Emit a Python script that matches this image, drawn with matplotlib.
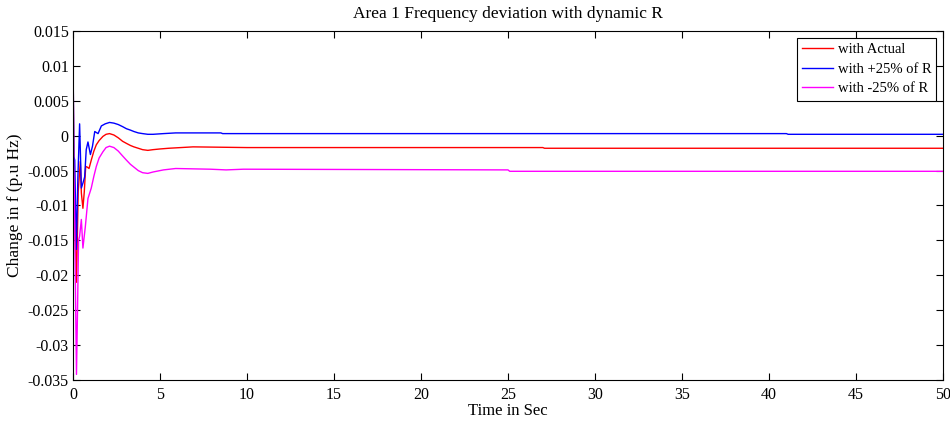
import numpy as np
import matplotlib.pyplot as plt

plt.rcParams['font.family'] = ['Liberation Serif', 'DejaVu Serif']
plt.rcParams['font.size'] = 11.5

# frequency deviation samples (time in s, deviation in p.u. Hz)
t_actual = [0, 0.05, 0.1, 0.2, 0.3, 0.42, 0.48, 0.57, 0.65, 0.73, 0.82, 0.92,
            1.05, 1.2, 1.34, 1.5, 1.72, 1.9, 2.1, 2.35, 2.6, 2.85, 3.07, 3.3,
            3.5, 3.75, 4.0, 4.3, 4.6, 5.0, 5.5, 6.9, 10, 20, 27, 27.1, 40, 50]
f_actual = [0.012, -0.004, -0.012, -0.021, -0.008, -0.0037, -0.0082, -0.0104,
            -0.008, -0.0044, -0.0045, -0.0047, -0.0035, -0.0022, -0.0013,
            -0.0007, -0.0001, 0.0002, 0.0003, 0.0001, -0.0003, -0.0008,
            -0.0011, -0.0014, -0.0016, -0.0018, -0.002, -0.0021, -0.002,
            -0.0019, -0.0018, -0.0016, -0.0017, -0.0017, -0.0017, -0.0018,
            -0.0018, -0.0018]

t_plus = [0, 0.05, 0.1, 0.19, 0.28, 0.38, 0.48, 0.57, 0.67, 0.76, 0.86, 1.0,
          1.12, 1.25, 1.44, 1.63, 1.85, 2.1, 2.35, 2.6, 2.85, 3.07, 3.3, 3.5,
          3.75, 4.0, 4.3, 4.6, 5.2, 5.9, 8.5, 8.6, 20, 41, 41.1, 50]
f_plus = [0.012, -0.003, -0.0035, -0.0163, -0.006, 0.0017, -0.0075, -0.0068,
          -0.0059, -0.002, -0.0009, -0.0027, -0.0015, 0.0006, 0.0003, 0.0014,
          0.0017, 0.0019, 0.0018, 0.0016, 0.0013, 0.001, 0.0008, 0.0006,
          0.0004, 0.0003, 0.0002, 0.0002, 0.0003, 0.0004, 0.0004, 0.0003,
          0.0003, 0.0003, 0.0002, 0.0002]

t_minus = [0, 0.04, 0.08, 0.14, 0.2, 0.26, 0.32, 0.38, 0.48, 0.57, 0.71,
           0.86, 1.05, 1.2, 1.34, 1.5, 1.72, 1.9, 2.1, 2.35, 2.6, 2.85, 3.07,
           3.3, 3.5, 3.75, 4.0, 4.3, 4.6, 5.2, 5.9, 7.9, 8.8, 9.8, 25, 25.1,
           50]
f_minus = [0.012, -0.005, -0.009, -0.022, -0.0342, -0.025, -0.015, -0.0144,
           -0.012, -0.0161, -0.013, -0.009, -0.0075, -0.0058, -0.0044,
           -0.0032, -0.0023, -0.0017, -0.0015, -0.0017, -0.0022, -0.0029,
           -0.0035, -0.0041, -0.0045, -0.005, -0.0053, -0.0054, -0.0052,
           -0.0049, -0.0047, -0.0048, -0.0049, -0.0048, -0.0049, -0.0051,
           -0.0051]

fig = plt.figure(figsize=(9.5, 4.22), dpi=100)
ax = fig.add_axes([73 / 950, 1 - 380 / 422, 870 / 950, 349 / 422])

ax.plot(t_actual, f_actual, color='#ff0000', lw=1.0, label='with Actual')
ax.plot(t_plus, f_plus, color='#0000ff', lw=1.0, label='with +25% of R')
ax.plot(t_minus, f_minus, color='#ff00ff', lw=1.0, label='with -25% of R')

ax.set_xlim(0, 50)
ax.set_ylim(-0.035, 0.015)
ax.set_xticks(np.arange(0, 51, 5))
ax.set_yticks(np.arange(-0.035, 0.0151, 0.005))
ax.set_yticklabels(['-0.035', '-0.03', '-0.025', '-0.02', '-0.015', '-0.01',
                    '-0.005', '0', '0.005', '0.01', '0.015'])
ax.tick_params(direction='in', top=True, right=True, length=5, width=0.8)
ax.tick_params(axis='x', pad=5)
ax.tick_params(axis='y', pad=3)
for s in ax.spines.values():
    s.set_linewidth(0.8)

ax.set_title('Area 1 Frequency deviation with dynamic R', fontsize=12.5,
             pad=9)
ax.set_xlabel('Time in Sec', fontsize=12, labelpad=0)
ax.set_ylabel('Change in f (p.u Hz)', fontsize=12.5, labelpad=3)

leg = ax.legend(loc='upper right', fancybox=False, edgecolor='black',
                framealpha=1, handlelength=2.1, handletextpad=0.35,
                borderpad=0.35, labelspacing=0.45, borderaxespad=0.45,
                fontsize=10.5)
leg.get_frame().set_linewidth(0.8)

fig.savefig('out.png', dpi=100)
